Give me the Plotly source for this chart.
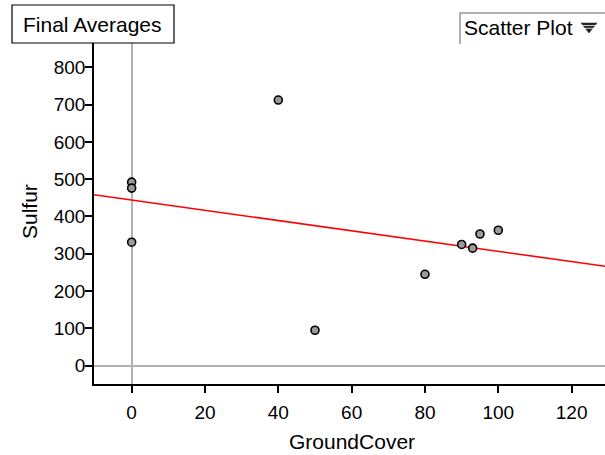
import plotly.graph_objects as go

# Data
ground_cover = [0, 0, 0, 40, 50, 80, 90, 93, 95, 100]
sulfur = [492, 476, 331, 712, 95, 245, 325, 315, 353, 363]

# Fitted line (intercept, slope)
line_intercept = 444
line_slope = -1.375
line_x = [-15, 135]

x_ticks = [0, 20, 40, 60, 80, 100, 120]
y_ticks = [0, 100, 200, 300, 400, 500, 600, 700, 800]

W, H = 605, 455
ML, MR, MT, MB = 94, 0, 40, 71
PW, PH = W - ML - MR, H - MT - MB


def px(x):
    return (x - ML) / PW


def py(y):
    return (H - MB - y) / PH


FONT = "Liberation Sans, Arial, sans-serif"

fig = go.Figure()

fig.add_trace(go.Scatter(
    x=line_x,
    y=[line_intercept + line_slope * v for v in line_x],
    mode="lines",
    line=dict(color="#ff0000", width=1.6),
    hoverinfo="skip",
    showlegend=False,
))

fig.add_trace(go.Scatter(
    x=ground_cover,
    y=sulfur,
    mode="markers",
    marker=dict(size=8, color="#9a9a9a", line=dict(color="#000000", width=1.6)),
    showlegend=False,
))

axis_common = dict(
    showgrid=False,
    zeroline=True,
    zerolinecolor="#b3b3b3",
    zerolinewidth=2,
    showline=True,
    linecolor="#000000",
    linewidth=1.5,
    ticks="outside",
    ticklen=7,
    tickwidth=1.5,
    tickcolor="#000000",
    tickfont=dict(family=FONT, size=19, color="#000000"),
    mirror=False,
)

fig.update_layout(
    width=W,
    height=H,
    margin=dict(l=ML, r=MR, t=MT, b=MB, pad=0),
    paper_bgcolor="white",
    plot_bgcolor="white",
    font=dict(family=FONT, color="#000000"),
    xaxis=dict(range=[-10.27, 129.1], tickvals=x_ticks, ticklabelstandoff=3, **axis_common),
    yaxis=dict(range=[-49.1, 873], tickvals=y_ticks, ticklabelstandoff=-4, **axis_common),
    shapes=[
        # Final Averages box
        dict(type="rect", xref="paper", yref="paper",
             x0=px(12), x1=px(174), y0=py(43), y1=py(5),
             fillcolor="white", line=dict(color="#000000", width=1.2), layer="above"),
        # Scatter Plot dropdown border
        dict(type="path", xref="paper", yref="paper",
             path=f"M {px(460)} {py(44)} L {px(460)} {py(13)} L {px(606)} {py(13)}",
             line=dict(color="#b0b0b0", width=2), layer="above"),
        # dropdown triangle icon
        dict(type="path", xref="paper", yref="paper",
             path=f"M {px(581)} {py(23)} L {px(597)} {py(23)} L {px(589)} {py(33)} Z",
             fillcolor="#222222", line=dict(color="#222222", width=0.5), layer="above"),
        dict(type="line", xref="paper", yref="paper",
             x0=px(582), x1=px(596), y0=py(25.5), y1=py(25.5),
             line=dict(color="white", width=0.8), layer="above"),
        dict(type="line", xref="paper", yref="paper",
             x0=px(583), x1=px(595), y0=py(28.3), y1=py(28.3),
             line=dict(color="white", width=0.8), layer="above"),
    ],
    annotations=[
        dict(text="Final Averages", xref="paper", yref="paper",
             x=px(92), y=py(25), xanchor="center", yanchor="middle",
             showarrow=False, font=dict(family=FONT, size=21, color="#000000")),
        dict(text="Scatter Plot", xref="paper", yref="paper",
             x=px(462), y=py(28), xanchor="left", yanchor="middle",
             showarrow=False, font=dict(family=FONT, size=21, color="#000000")),
        dict(text="GroundCover", xref="paper", yref="paper",
             x=px(352), y=py(441), xanchor="center", yanchor="middle",
             showarrow=False, font=dict(family=FONT, size=21, color="#000000")),
        dict(text="Sulfur", xref="paper", yref="paper",
             x=px(29), y=py(212), xanchor="center", yanchor="middle",
             textangle=-90,
             showarrow=False, font=dict(family=FONT, size=21, color="#000000")),
    ],
)

fig.write_html("out.html")
